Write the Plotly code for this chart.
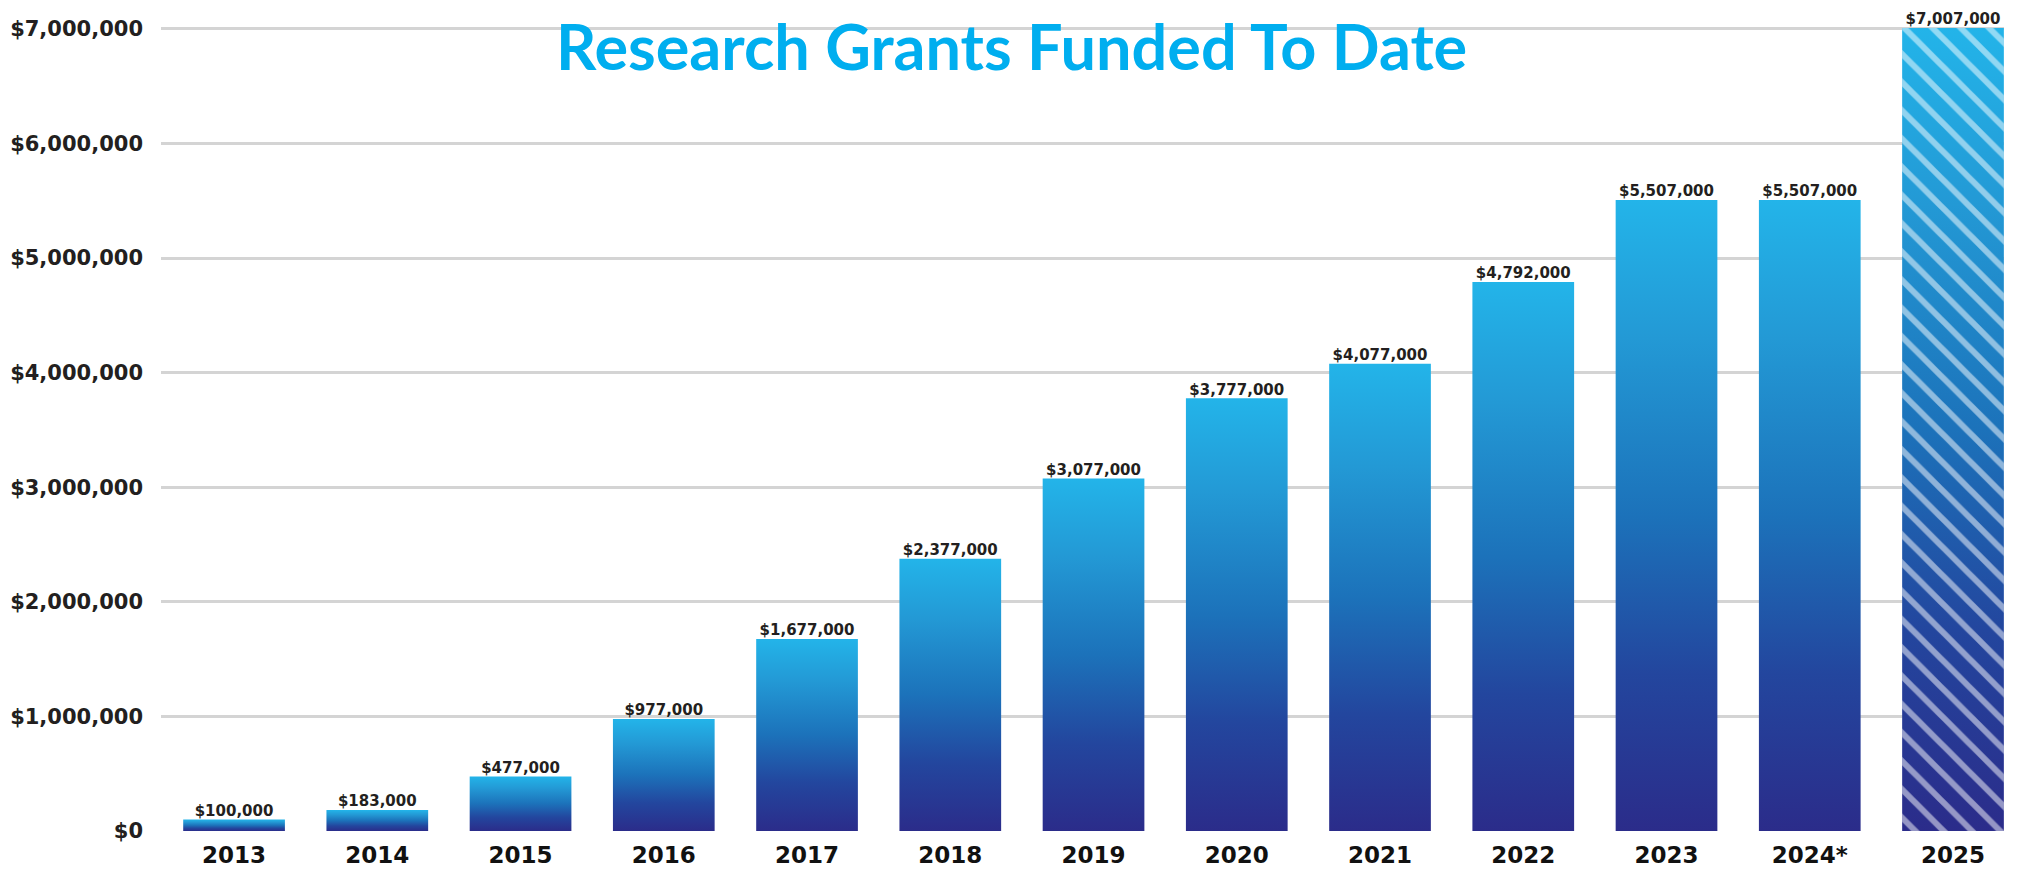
import plotly.graph_objects as go

years = ["2013", "2014", "2015", "2016", "2017", "2018", "2019",
         "2020", "2021", "2022", "2023", "2024*", "2025"]
funded = [100000, 183000, 477000, 977000, 1677000, 2377000, 3077000,
          3777000, 4077000, 4792000, 5507000, 5507000, 7007000]
value_labels = ["$100,000", "$183,000", "$477,000", "$977,000", "$1,677,000",
                "$2,377,000", "$3,077,000", "$3,777,000", "$4,077,000",
                "$4,792,000", "$5,507,000", "$5,507,000", "$7,007,000"]
projected = [False] * 12 + [True]
y_tick_vals = [0, 1000000, 2000000, 3000000, 4000000, 5000000, 6000000, 7000000]
y_tick_text = ["$0", "$1,000,000", "$2,000,000", "$3,000,000", "$4,000,000",
               "$5,000,000", "$6,000,000", "$7,000,000"]
title_text = "Research Grants Funded To Date"

LABEL_FONT = "DejaVu Sans"
TITLE_FONT = "Lato"
DARK = "#231F20"
GRADIENT = [[0.0, "#2B2C8A"], [0.25, "#23469E"], [0.5, "#1C72BA"],
            [0.78, "#2399D5"], [1.0, "#23B4E9"]]
HALF = 0.355

fig = go.Figure()
positions = list(range(len(years)))
for i, v in zip(positions, funded):
    xs = [i - HALF, i + HALF, i + HALF, i - HALF, i - HALF]
    ys = [0, 0, v, v, 0]
    fig.add_trace(go.Scatter(
        x=xs, y=ys, mode="lines", fill="toself", line=dict(width=0),
        fillgradient=dict(type="vertical", colorscale=GRADIENT),
        hoverinfo="skip", showlegend=False))
    if projected[i]:
        fig.add_trace(go.Scatter(
            x=xs, y=ys, mode="lines", fill="toself", line=dict(width=0),
            fillcolor="rgba(0,0,0,0)",
            fillpattern=dict(shape="\\", fgcolor="white", bgcolor="rgba(0,0,0,0)",
                             size=20, solidity=0.3),
            hoverinfo="skip", showlegend=False))

fig.add_trace(go.Scatter(
    x=positions, y=funded, mode="text", text=value_labels,
    textposition="top center", cliponaxis=False,
    textfont=dict(family=LABEL_FONT, size=15, color=DARK, weight=700),
    hoverinfo="skip", showlegend=False))

# white gap in the top gridline behind the title
fig.add_shape(type="rect", xref="paper", yref="paper",
              x0=0.1834, x1=0.7401, y0=0.955, y1=1.0,
              fillcolor="white", line=dict(width=0), layer="between")

fig.add_annotation(
    xref="paper", yref="paper", x=0.4617, y=1.0049,
    text=title_text, showarrow=False,
    font=dict(family=TITLE_FONT, size=63, color="#00AEEF", weight=700),
    xanchor="center", yanchor="top")

fig.update_layout(
    width=2013, height=863,
    margin=dict(l=153, r=17, t=2, b=39),
    plot_bgcolor="white", paper_bgcolor="white",
    xaxis=dict(range=[-0.51, 12.356], tickvals=positions, ticktext=years,
               showgrid=False, zeroline=False, showline=False, ticks="",
               automargin=False, ticklabelstandoff=7,
               tickfont=dict(family=LABEL_FONT, size=23, color="#111111", weight=700)),
    yaxis=dict(range=[-8000, 7165000], tickvals=y_tick_vals, ticktext=y_tick_text,
               showgrid=True, gridcolor="#D4D4D4", gridwidth=3, zeroline=False,
               showline=False, ticks="", ticklabelstandoff=17, automargin=False,
               tickfont=dict(family=LABEL_FONT, size=21, color=DARK, weight=700)),
)

fig.write_html("out.html")
